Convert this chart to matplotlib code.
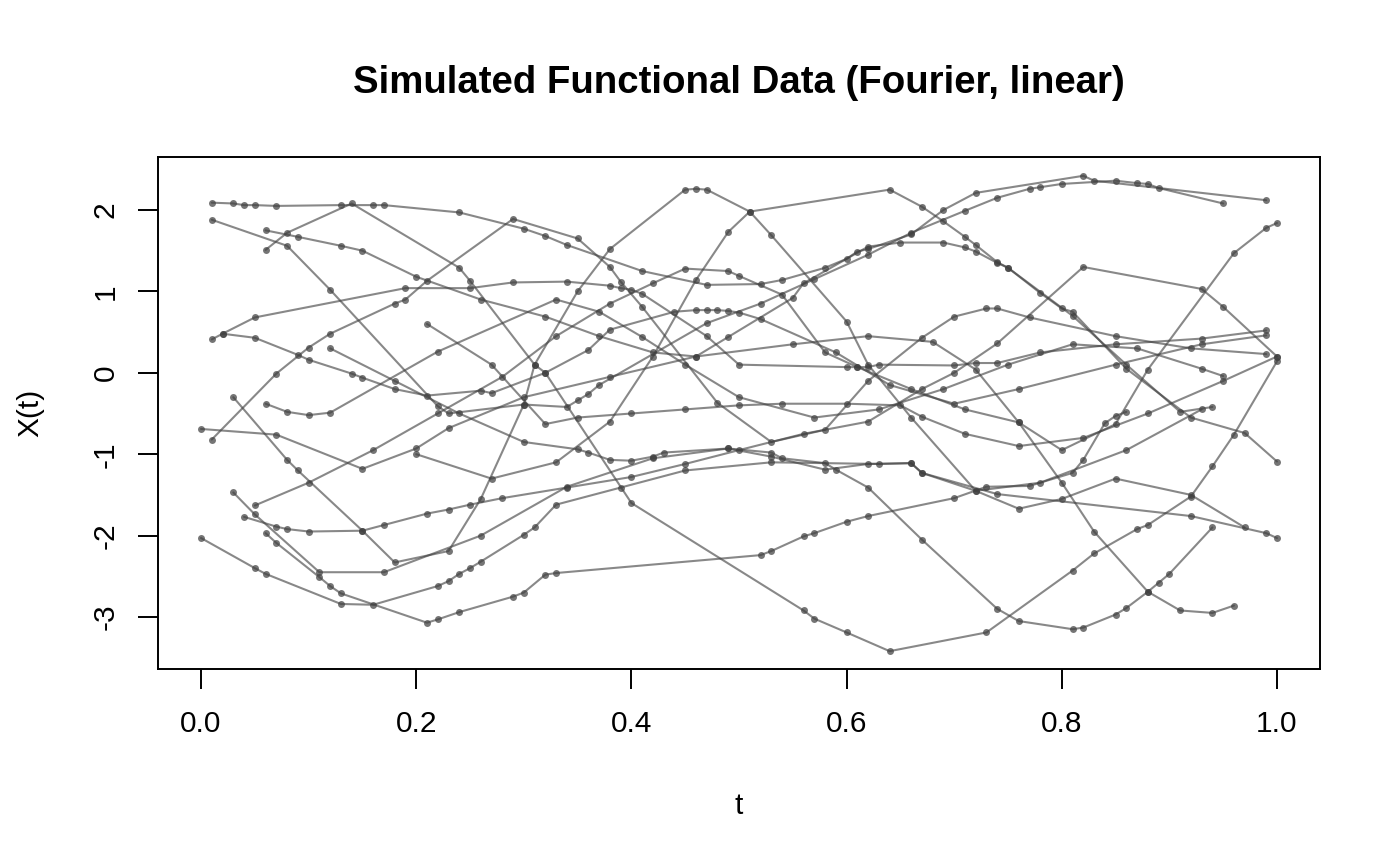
import matplotlib
matplotlib.use("Agg")
import matplotlib.pyplot as plt

plt.rcParams['font.family'] = ['Liberation Sans', 'DejaVu Sans']

# ---- data: sampled curves (t, X(t)) ----
c01_t = [0.01,0.03,0.04,0.05,0.07,0.13,0.16,0.17,0.24,0.30,0.32,0.34,0.41,0.47,0.52,0.54,0.58,0.60,0.61,0.62,0.66,0.69,0.72,0.82,0.83,0.99]
c01_y = [2.09,2.08,2.06,2.06,2.05,2.06,2.06,2.06,1.97,1.77,1.68,1.57,1.25,1.08,1.09,1.14,1.29,1.40,1.49,1.52,1.70,2.00,2.21,2.42,2.36,2.12]

c02_t = [0.01,0.08,0.12,0.22,0.23,0.30,0.34,0.35,0.36,0.37,0.47,0.52,0.57,0.62,0.66,0.71,0.74,0.77,0.78,0.80,0.85,0.87,0.88,0.89,0.95]
c02_y = [1.88,1.56,1.02,-0.41,-0.50,-0.39,-0.42,-0.34,-0.26,-0.15,0.61,0.85,1.15,1.45,1.72,1.99,2.15,2.26,2.28,2.32,2.36,2.33,2.32,2.27,2.08]

c03_t = [0.06,0.08,0.14,0.24,0.25,0.31,0.32,0.40,0.56,0.57,0.60,0.64,0.73,0.81,0.83,0.87,0.88,0.92,0.94,0.96,1.00]
c03_y = [1.51,1.72,2.08,1.29,1.13,0.10,0.00,-1.60,-2.92,-3.02,-3.19,-3.42,-3.19,-2.43,-2.22,-1.92,-1.87,-1.52,-1.15,-0.76,0.14]

c04_t = [0.00,0.05,0.06,0.13,0.16,0.22,0.23,0.24,0.25,0.26,0.30,0.31,0.33,0.39,0.45,0.53,0.63,0.66,0.67,0.74,0.92,0.99,1.00]
c04_y = [-2.03,-2.40,-2.47,-2.84,-2.85,-2.62,-2.56,-2.47,-2.40,-2.32,-1.99,-1.90,-1.62,-1.41,-1.20,-1.10,-1.12,-1.11,-1.23,-1.49,-1.76,-1.97,-2.03]

c05_t = [0.06,0.07,0.11,0.12,0.13,0.21,0.22,0.24,0.29,0.30,0.32,0.33,0.52,0.53,0.56,0.57,0.60,0.62,0.70,0.73,0.77,0.81,0.82,0.84,0.85,0.86]
c05_y = [-1.97,-2.09,-2.51,-2.62,-2.71,-3.07,-3.03,-2.94,-2.75,-2.70,-2.48,-2.46,-2.24,-2.19,-2.01,-1.97,-1.83,-1.76,-1.54,-1.40,-1.39,-1.23,-1.07,-0.62,-0.53,-0.48]

c06_t = [0.01,0.07,0.10,0.12,0.18,0.19,0.21,0.29,0.35,0.38,0.39,0.41,0.48,0.53,0.58,0.62,0.67,0.70,0.73,0.74,0.77,0.85,0.92,0.99]
c06_y = [-0.82,-0.01,0.31,0.48,0.85,0.90,1.13,1.89,1.65,1.30,1.12,0.81,-0.37,-0.85,-0.70,-0.10,0.43,0.69,0.79,0.79,0.68,0.45,0.30,0.23]

c07_t = [0.06,0.09,0.13,0.15,0.20,0.26,0.32,0.37,0.42,0.46,0.49,0.55,0.56,0.62,0.65,0.69,0.71,0.72,0.74,0.75,0.81,0.86,0.91,0.94]
c07_y = [1.75,1.67,1.56,1.50,1.18,0.90,0.69,0.45,0.25,0.20,0.44,0.92,1.10,1.55,1.60,1.60,1.54,1.49,1.35,1.29,0.70,0.10,-0.48,-0.42]

c08_t = [0.01,0.02,0.05,0.19,0.25,0.29,0.34,0.38,0.39,0.40,0.41,0.47,0.50,0.60,0.61,0.62,0.63,0.70,0.72,0.74,0.78,0.85,0.93,0.99]
c08_y = [0.41,0.48,0.68,1.04,1.04,1.11,1.12,1.07,1.04,1.02,0.97,0.45,0.10,0.07,0.07,0.07,0.10,0.09,0.12,0.12,0.25,0.35,0.42,0.52]

c09_t = [0.02,0.05,0.09,0.10,0.14,0.15,0.18,0.21,0.26,0.27,0.32,0.36,0.38,0.44,0.46,0.47,0.48,0.49,0.50,0.52,0.59,0.64,0.70,0.76,0.85,0.93,0.99]
c09_y = [0.48,0.43,0.22,0.16,-0.01,-0.06,-0.20,-0.28,-0.22,-0.25,0.00,0.28,0.53,0.75,0.77,0.77,0.77,0.76,0.74,0.66,0.25,-0.15,-0.38,-0.20,0.10,0.35,0.46]

c10_t = [0.00,0.07,0.15,0.20,0.23,0.30,0.38,0.46,0.55,0.62,0.68,0.72,0.76,0.80,0.85,0.88,0.96,0.99,1.00]
c10_y = [-0.69,-0.76,-1.18,-0.93,-0.68,-0.30,-0.05,0.20,0.35,0.45,0.38,0.04,-0.61,-0.95,-0.63,0.04,1.47,1.78,1.84]

c11_t = [0.03,0.08,0.09,0.15,0.18,0.23,0.26,0.30,0.31,0.35,0.38,0.45,0.46,0.47,0.51,0.53,0.60,0.62,0.66,0.72,0.76,0.80,0.85,0.92,0.97]
c11_y = [-0.30,-1.07,-1.20,-1.94,-2.33,-2.19,-1.55,-0.39,0.10,1.00,1.52,2.25,2.26,2.25,1.98,1.69,0.63,0.10,-0.55,-1.45,-1.67,-1.55,-1.30,-1.50,-1.90]

c12_t = [0.03,0.05,0.11,0.17,0.26,0.34,0.42,0.49,0.53,0.54,0.58,0.59,0.62,0.67,0.74,0.76,0.81,0.82,0.85,0.86,0.88,0.89,0.90,0.94]
c12_y = [-1.47,-1.74,-2.45,-2.45,-2.00,-1.40,-1.05,-0.93,-0.98,-1.05,-1.11,-1.19,-1.41,-2.05,-2.90,-3.05,-3.15,-3.13,-2.97,-2.89,-2.69,-2.58,-2.47,-1.90]

c13_t = [0.04,0.07,0.08,0.10,0.15,0.17,0.21,0.23,0.25,0.28,0.34,0.40,0.45,0.50,0.56,0.62,0.67,0.70,0.74,0.82,0.93,0.95,1.00]
c13_y = [-1.77,-1.89,-1.92,-1.95,-1.94,-1.87,-1.73,-1.68,-1.62,-1.54,-1.41,-1.28,-1.12,-0.95,-0.75,-0.60,-0.20,0.00,0.36,1.30,1.03,0.81,0.20]

c14_t = [0.05,0.10,0.16,0.22,0.28,0.33,0.38,0.42,0.45,0.49,0.50,0.54,0.58,0.61,0.66,0.71,0.76,0.80,0.83,0.88,0.91,0.94,0.96]
c14_y = [-1.63,-1.35,-0.95,-0.50,-0.05,0.45,0.85,1.10,1.28,1.25,1.19,0.96,0.25,0.07,-0.20,-0.45,-0.61,-1.35,-1.95,-2.69,-2.92,-2.95,-2.86]

c15_t = [0.06,0.08,0.10,0.12,0.22,0.33,0.37,0.41,0.45,0.50,0.57,0.63,0.69,0.75,0.81,0.87,0.93,0.95]
c15_y = [-0.38,-0.48,-0.52,-0.49,0.26,0.90,0.75,0.44,0.10,-0.30,-0.55,-0.45,-0.20,0.10,0.35,0.30,0.05,-0.04]

c16_t = [0.20,0.27,0.33,0.38,0.42,0.46,0.49,0.51,0.64,0.67,0.69,0.71,0.72,0.74,0.75,0.78,0.80,0.81,0.86,0.92,0.97,1.00]
c16_y = [-1.00,-1.30,-1.10,-0.60,0.20,1.14,1.73,1.98,2.25,2.04,1.86,1.67,1.57,1.36,1.29,0.98,0.79,0.75,0.05,-0.55,-0.74,-1.09]

c17_t = [0.12,0.18,0.24,0.30,0.35,0.36,0.38,0.40,0.42,0.43,0.49,0.53,0.58,0.62,0.66,0.67,0.72,0.78,0.86,0.93]
c17_y = [0.30,-0.10,-0.50,-0.85,-0.94,-0.98,-1.07,-1.08,-1.03,-0.98,-0.93,-1.03,-1.19,-1.12,-1.11,-1.23,-1.45,-1.35,-0.95,-0.45]

c18_t = [0.21,0.27,0.32,0.35,0.40,0.45,0.50,0.54,0.60,0.65,0.67,0.71,0.76,0.82,0.88,0.95,1.00]
c18_y = [0.60,0.10,-0.63,-0.55,-0.50,-0.45,-0.40,-0.38,-0.38,-0.40,-0.54,-0.75,-0.90,-0.80,-0.50,-0.10,0.20]

curves = [
    (c01_t, c01_y), (c02_t, c02_y), (c03_t, c03_y), (c04_t, c04_y),
    (c05_t, c05_y), (c06_t, c06_y), (c07_t, c07_y), (c08_t, c08_y),
    (c09_t, c09_y), (c10_t, c10_y), (c11_t, c11_y), (c12_t, c12_y),
    (c13_t, c13_y), (c14_t, c14_y), (c15_t, c15_y), (c16_t, c16_y),
    (c17_t, c17_y), (c18_t, c18_y),
]

x_ticks = [0.0, 0.2, 0.4, 0.6, 0.8, 1.0]
x_ticklabels = ["0.0", "0.2", "0.4", "0.6", "0.8", "1.0"]
y_ticks = [-3, -2, -1, 0, 1, 2]
y_ticklabels = ["-3", "-2", "-1", "0", "1", "2"]

# ---- figure ----
W, H = 1400, 866
fig = plt.figure(figsize=(W / 100, H / 100), dpi=100)
ax = fig.add_axes([158 / W, 1 - 669 / H, 1162 / W, 512 / H])

line_col = (0.25, 0.25, 0.25, 0.62)
pt_col = (0.25, 0.25, 0.25, 0.72)
for t, y in curves:
    ax.plot(t, y, color=line_col, lw=1.5, solid_capstyle='round', zorder=2)
    ax.plot(t, y, linestyle='none', marker='o', ms=5.0, mfc=pt_col, mec='none', zorder=3)

ax.set_xlim(-0.04, 1.04)
ax.set_ylim(-3.639, 2.651)

ax.set_xticks(x_ticks)
ax.set_xticklabels(x_ticklabels)
ax.set_yticks(y_ticks)
ax.set_yticklabels(y_ticklabels, rotation=90, va='center')
ax.tick_params(axis='both', direction='out', length=14.4, width=1.4, labelsize=21.5, colors='black')
ax.tick_params(axis='x', pad=15)
ax.tick_params(axis='y', pad=13)
for s in ax.spines.values():
    s.set_linewidth(1.4)
    s.set_color('black')

fig.text(739 / W, 1 - 83 / H, "Simulated Functional Data (Fourier, linear)",
         ha='center', va='center', fontsize=27.6, fontweight='bold')
fig.text(739 / W, 1 - 806 / H, "t", ha='center', va='center', fontsize=21.5)
fig.text(30 / W, 1 - 413 / H, "X(t)", ha='center', va='center', fontsize=21.5, rotation=90)

fig.savefig("out.png", dpi=100)
